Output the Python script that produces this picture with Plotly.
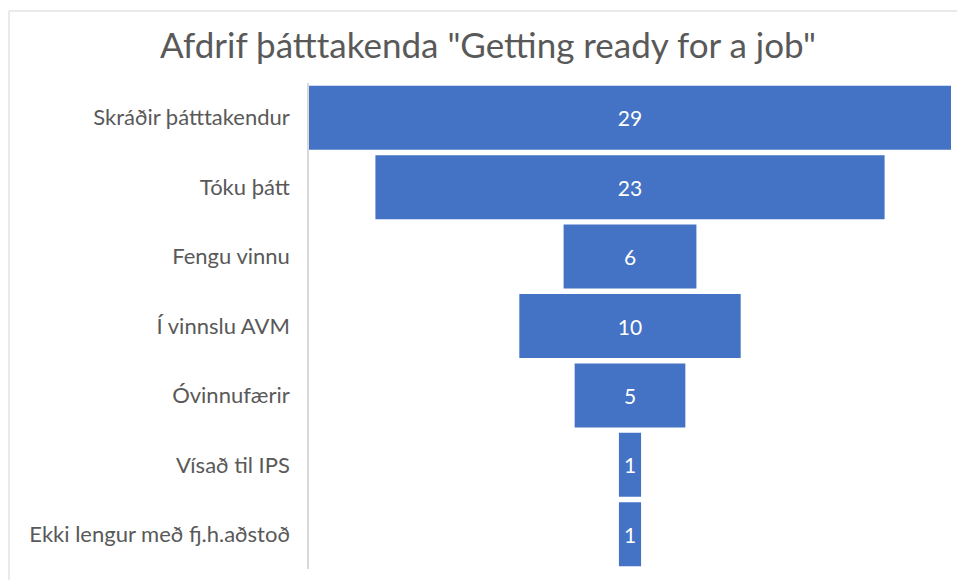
import plotly.graph_objects as go

categories = ["Skráðir þátttakendur", "Tóku þátt", "Fengu vinnu", "Í vinnslu AVM",
              "Óvinnufærir", "Vísað til IPS", "Ekki lengur með fj.h.aðstoð"]
values = [29, 23, 6, 10, 5, 1, 1]
title_text = 'Afdrif þátttakenda "Getting ready for a job"'

W, H = 957, 580
L, R, T, B = 309, 6, 83, 11
pw = W - L - R
ph = H - T - B

def px2paper_x(px):
    return (px - L) / pw

def px2paper_y(py):
    return (H - B - py) / ph

fig = go.Figure(go.Funnel(
    y=categories,
    x=values,
    textinfo="value",
    textposition="inside",
    insidetextanchor="middle",
    textfont=dict(color="white", size=21, family="Lato"),
    marker=dict(color="#4472C4", line=dict(width=0)),
    connector=dict(visible=False),
    hoverinfo="y+x",
))

fig.update_layout(
    width=W, height=H,
    margin=dict(l=L, r=R, t=T, b=B, autoexpand=False),
    paper_bgcolor="white",
    plot_bgcolor="white",
    funnelgap=0.078,
    showlegend=False,
    title=dict(text=title_text, x=488 / W, xref="container", xanchor="center",
               y=1 - 46 / H, yanchor="middle", yref="container",
               font=dict(family="Lato", size=35, color="#595959")),
    xaxis=dict(visible=False, range=[-14.5, 14.5], fixedrange=True),
    yaxis=dict(showline=True, linecolor="#D9D9D9", linewidth=1.5,
               showgrid=False, zeroline=False, ticks="",
               ticklabelstandoff=13,
               tickfont=dict(family="Lato", size=22, color="#595959")),
    shapes=[
        dict(type="line", xref="paper", yref="paper",
             x0=px2paper_x(9), x1=px2paper_x(9), y0=px2paper_y(11), y1=px2paper_y(585),
             line=dict(color="#E3E3E3", width=1.5)),
        dict(type="line", xref="paper", yref="paper",
             x0=px2paper_x(9), x1=px2paper_x(960), y0=px2paper_y(11), y1=px2paper_y(11),
             line=dict(color="#E3E3E3", width=1.5)),
    ],
)

fig.write_html("out.html", config={"displayModeBar": False},
               post_script="document.body.style.margin='0';")
